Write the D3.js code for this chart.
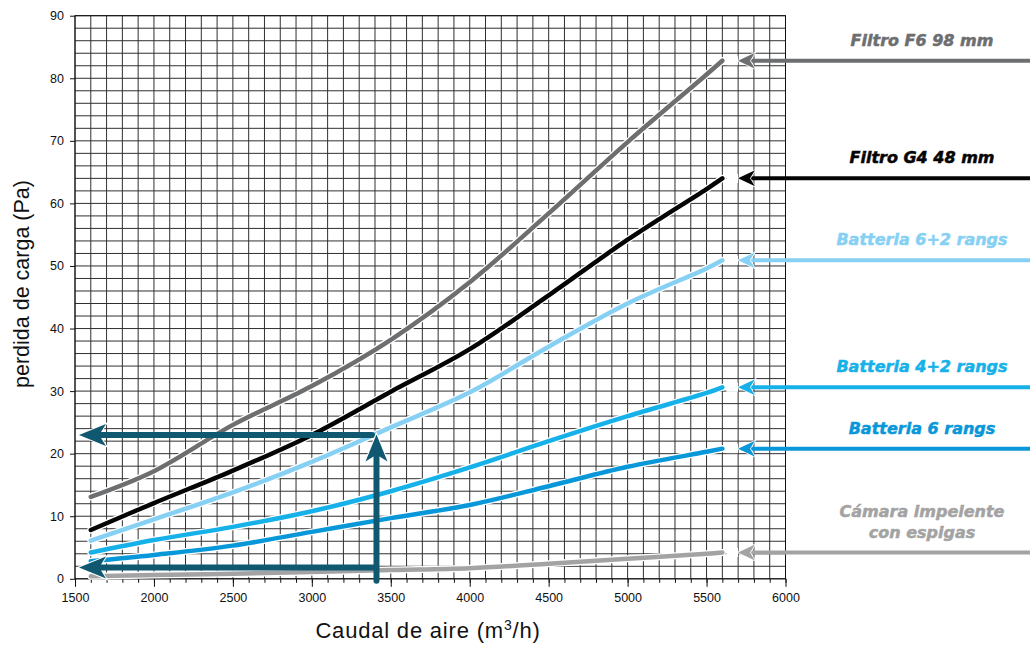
<!DOCTYPE html>
<html>
<head>
<meta charset="utf-8">
<script src="https://cdn.jsdelivr.net/npm/d3@7"></script>
<style>
  body { margin: 0; background: #fff; }
  svg { display: block; }
</style>
</head>
<body>
<svg id="chart" width="1030" height="645"></svg>
<script>
// Airflow (m³/h) at which each pressure-drop curve is sampled
const flow = [1600, 2000, 2500, 3000, 3500, 4000, 4500, 5000, 5500, 5600];

// Pressure drop (Pa) per component
const filtroF6   = [13.1, 17.2, 24.6, 30.8, 38.2, 47.4, 58.4, 69.8, 80.6, 82.8];
const filtroG4   = [7.8, 12.1, 17.3, 23.0, 29.9, 36.7, 45.3, 54.2, 62.3, 64.0];
const bat62      = [6.1, 9.5, 13.8, 18.7, 24.2, 29.8, 37.1, 44.0, 49.6, 50.9];
const bat42      = [4.2, 6.2, 8.3, 10.8, 14.0, 17.8, 22.0, 26.0, 29.7, 30.6];
const bat6       = [2.8, 3.8, 5.3, 7.5, 9.7, 11.8, 14.8, 17.9, 20.3, 20.8];
const camara     = [0.4, 0.6, 0.8, 1.1, 1.4, 1.7, 2.4, 3.2, 4.0, 4.2];

const seriesNames = [
  ["Filtro F6 98 mm"],
  ["Filtro G4 48 mm"],
  ["Batteria 6+2 rangs"],
  ["Batteria 4+2 rangs"],
  ["Batteria 6 rangs"],
  ["Cámara impelente", "con espigas"]
];
const seriesValues = [filtroF6, filtroG4, bat62, bat42, bat6, camara];
const seriesColors = ["#6d6e70", "#050505", "#86d0f4", "#17b1e9", "#0897d9", "#a3a3a3"];

// Axis ticks
const xTicks = [1500, 2000, 2500, 3000, 3500, 4000, 4500, 5000, 5500, 6000];
const yTicks = [0, 10, 20, 30, 40, 50, 60, 70, 80, 90];

// Worked example: reading at 3400 m³/h
const readFlow = 3400;
const readLoss = 23;
const readLossLow = 1.8;

const svg = d3.select("#chart");

const x = d3.scaleLinear().domain([1500, 6000]).range([75, 785.5]);
const y = d3.scaleLinear().domain([0, 90]).range([578.8, 15.7]);

// ---- grid ----
const grid = svg.append("g");
grid.selectAll("line.v")
  .data(d3.range(1500, 6001, 100))
  .join("line")
  .attr("x1", d => x(d)).attr("x2", d => x(d))
  .attr("y1", y(90)).attr("y2", y(0))
  .attr("stroke", "#303030").attr("stroke-width", 1);
grid.selectAll("line.h")
  .data(d3.range(0, 91, 2))
  .join("line")
  .attr("x1", x(1500)).attr("x2", x(6000))
  .attr("y1", d => y(d)).attr("y2", d => y(d))
  .attr("stroke", "#303030").attr("stroke-width", 1);

// ---- axes ----
const tickFont = "'Liberation Sans', Arial, Helvetica, sans-serif";

const xMinor = svg.append("g")
  .attr("transform", `translate(0,${y(0)})`)
  .call(d3.axisBottom(x).tickValues(d3.range(1500, 6001, 100)).tickSize(4).tickFormat(""));
xMinor.select(".domain").remove();
xMinor.selectAll("line").attr("stroke", "#111");

const xMajor = svg.append("g")
  .attr("transform", `translate(0,${y(0)})`)
  .call(d3.axisBottom(x).tickValues(xTicks).tickSize(8).tickPadding(6).tickFormat(d3.format("d")));
xMajor.select(".domain").remove();
xMajor.selectAll("line").attr("stroke", "#111");
xMajor.selectAll("text").attr("font-family", tickFont).attr("font-size", 12.5).attr("fill", "#111");

const yAxis = svg.append("g")
  .attr("transform", `translate(${x(1500)},0)`)
  .call(d3.axisLeft(y).tickValues(yTicks).tickSize(5).tickPadding(6).tickFormat(d3.format("d")));
yAxis.select(".domain").remove();
yAxis.selectAll("line").attr("stroke", "#111");
yAxis.selectAll("text").attr("font-family", tickFont).attr("font-size", 12.5).attr("fill", "#111");

// frame
svg.append("rect")
  .attr("x", x(1500)).attr("y", y(90))
  .attr("width", x(6000) - x(1500)).attr("height", y(0) - y(90))
  .attr("fill", "none").attr("stroke", "#111").attr("stroke-width", 1);

// ---- axis titles ----
const xTitle = svg.append("text")
  .attr("x", 428).attr("y", 638)
  .attr("text-anchor", "middle")
  .attr("font-family", tickFont).attr("font-size", 22).attr("letter-spacing", 0.8)
  .attr("fill", "#111");
xTitle.append("tspan").text("Caudal de aire (m");
xTitle.append("tspan").attr("font-size", 14).attr("dy", -8).text("3");
xTitle.append("tspan").attr("dy", 8).text("/h)");

svg.append("text")
  .attr("transform", "translate(29,284) rotate(-90)")
  .attr("text-anchor", "middle")
  .attr("font-family", tickFont).attr("font-size", 21.5)
  .attr("fill", "#111")
  .text("perdida de carga (Pa)");

// ---- curves ----
const line = d3.line()
  .x((d, i) => x(flow[i]))
  .y(d => y(d))
  .curve(d3.curveCatmullRom.alpha(0.5));

const curves = svg.append("g");
const order = [5, 4, 3, 2, 1, 0];
order.forEach(k => {
  curves.append("path")
    .attr("d", line(seriesValues[k]))
    .attr("fill", "none").attr("stroke", "#fff")
    .attr("stroke-width", 7).attr("stroke-linecap", "round");
  curves.append("path")
    .attr("d", line(seriesValues[k]))
    .attr("fill", "none").attr("stroke", seriesColors[k])
    .attr("stroke-width", 4.5).attr("stroke-linecap", "round");
});

// ---- pointer arrows and labels on the right ----
const labelFont = "'DejaVu Sans', Verdana, sans-serif";
const tipX = 738;
const pointers = svg.append("g");
seriesValues.forEach((vals, k) => {
  const endX = x(flow[flow.length - 1]);
  const ay = y(vals[vals.length - 1]);
  const col = seriesColors[k];
  // white gap between curve end and arrow tip
  pointers.append("line")
    .attr("x1", endX + 4).attr("x2", tipX).attr("y1", ay).attr("y2", ay)
    .attr("stroke", "#fff").attr("stroke-width", 9);
  // shaft
  pointers.append("line")
    .attr("x1", tipX + 10).attr("x2", 1035).attr("y1", ay).attr("y2", ay)
    .attr("stroke", col).attr("stroke-width", 4);
  // head
  pointers.append("path")
    .attr("d", `M${tipX},${ay} L${tipX + 17},${ay - 8} L${tipX + 12},${ay} L${tipX + 17},${ay + 8} Z`)
    .attr("fill", col).attr("stroke", "#fff").attr("stroke-width", 1.5)
    .attr("stroke-linejoin", "miter").attr("paint-order", "stroke");

  const lines = seriesNames[k];
  lines.forEach((t, j) => {
    pointers.append("text")
      .attr("x", 922)
      .attr("y", ay - 15 - (lines.length - 1 - j) * 21)
      .attr("text-anchor", "middle")
      .attr("font-family", labelFont).attr("font-weight", "bold").attr("font-style", "italic")
      .attr("font-size", 16)
      .attr("fill", col).attr("stroke", col).attr("stroke-width", 0.5)
      .text(t);
  });
});

// ---- worked example arrows ----
const teal = "#0f5870";
const ex = svg.append("g");
const leftTip = x(1500) + 4;

function hArrow(py, fromX) {
  ex.append("path")
    .attr("d", `M${leftTip},${py} L${leftTip + 27},${py - 11} L${leftTip + 22},${py - 3} L${leftTip + 22},${py + 3} L${leftTip + 27},${py + 11} Z`)
    .attr("fill", teal).attr("stroke", "#fff").attr("stroke-width", 2).attr("paint-order", "stroke");
  ex.append("line")
    .attr("x1", leftTip + 20).attr("x2", fromX).attr("y1", py).attr("y2", py)
    .attr("stroke", teal).attr("stroke-width", 6).attr("stroke-linecap", "round");
}

hArrow(y(readLossLow), x(readFlow));
hArrow(y(readLoss), x(readFlow) - 3);

// vertical arrow up from the flow axis to the curve
const vx = x(readFlow) + 1.5;
const vTip = y(readLoss) - 0.5;
ex.append("path")
  .attr("d", `M${vx},${vTip} L${vx - 11},${vTip + 27} L${vx - 3},${vTip + 22} L${vx + 3},${vTip + 22} L${vx + 11},${vTip + 27} Z`)
  .attr("fill", teal).attr("stroke", "#fff").attr("stroke-width", 2).attr("paint-order", "stroke");
ex.append("line")
  .attr("x1", vx).attr("x2", vx).attr("y1", vTip + 20).attr("y2", y(0) + 2)
  .attr("stroke", teal).attr("stroke-width", 6).attr("stroke-linecap", "round");
</script>
</body>
</html>
